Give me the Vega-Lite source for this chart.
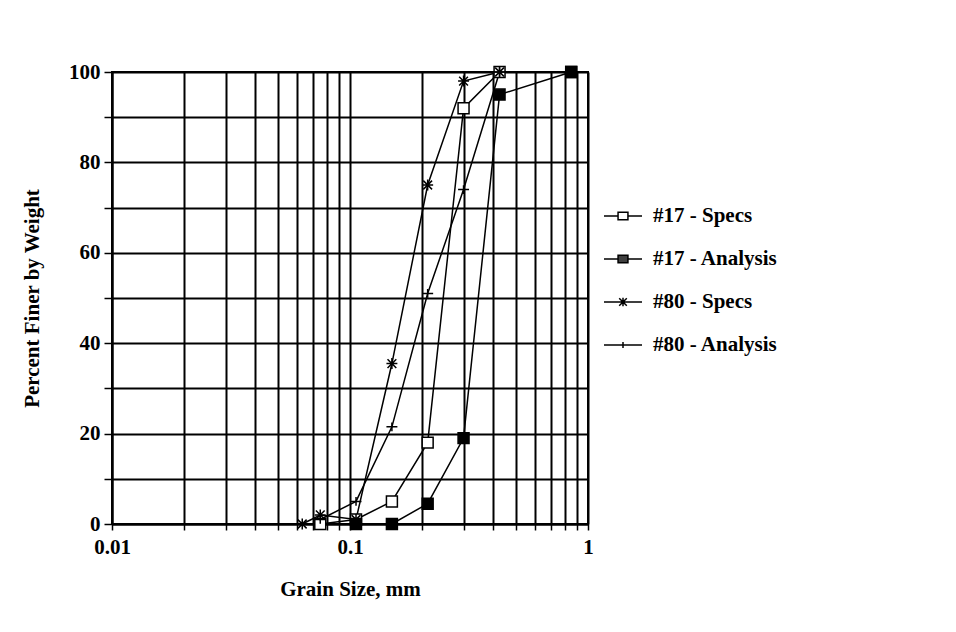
{
  "$schema": "https://vega.github.io/schema/vega-lite/v6.json",
  "width": 476,
  "height": 452,
  "padding": {"left": 21, "top": 61, "right": 5, "bottom": 5},
  "background": "white",
  "config": {
    "view": {"stroke": "black", "strokeWidth": 2},
    "font": "Liberation Serif"
  },
  "data": {
    "values": [
      {"series": "#17 - Specs", "size": 0.075, "pct": 0},
      {"series": "#17 - Specs", "size": 0.106, "pct": 1},
      {"series": "#17 - Specs", "size": 0.15, "pct": 5},
      {"series": "#17 - Specs", "size": 0.212, "pct": 18},
      {"series": "#17 - Specs", "size": 0.3, "pct": 92},
      {"series": "#17 - Specs", "size": 0.425, "pct": 100},
      {"series": "#17 - Specs", "size": 0.85, "pct": 100},
      {"series": "#17 - Analysis", "size": 0.106, "pct": 0},
      {"series": "#17 - Analysis", "size": 0.15, "pct": 0},
      {"series": "#17 - Analysis", "size": 0.212, "pct": 4.5},
      {"series": "#17 - Analysis", "size": 0.3, "pct": 19},
      {"series": "#17 - Analysis", "size": 0.425, "pct": 95},
      {"series": "#17 - Analysis", "size": 0.85, "pct": 100},
      {"series": "#80 - Specs", "size": 0.063, "pct": 0},
      {"series": "#80 - Specs", "size": 0.075, "pct": 2},
      {"series": "#80 - Specs", "size": 0.106, "pct": 1},
      {"series": "#80 - Specs", "size": 0.15, "pct": 35.5},
      {"series": "#80 - Specs", "size": 0.212, "pct": 75},
      {"series": "#80 - Specs", "size": 0.3, "pct": 98},
      {"series": "#80 - Specs", "size": 0.425, "pct": 100},
      {"series": "#80 - Analysis", "size": 0.075, "pct": 1},
      {"series": "#80 - Analysis", "size": 0.106, "pct": 5},
      {"series": "#80 - Analysis", "size": 0.15, "pct": 21.5},
      {"series": "#80 - Analysis", "size": 0.212, "pct": 51},
      {"series": "#80 - Analysis", "size": 0.3, "pct": 74},
      {"series": "#80 - Analysis", "size": 0.425, "pct": 100}
    ]
  },
  "encoding": {
    "x": {
      "field": "size",
      "type": "quantitative",
      "title": "Grain Size, mm",
      "scale": {"type": "log", "domain": [0.01, 1], "nice": false},
      "axis": {
        "values": [0.01, 0.02, 0.03, 0.04, 0.05, 0.06, 0.07, 0.08, 0.09, 0.1, 0.2, 0.3, 0.4, 0.5, 0.6, 0.7, 0.8, 0.9, 1],
        "labelExpr": "datum.value == 0.01 ? '0.01' : datum.value == 0.1 ? '0.1' : datum.value == 1 ? '1' : ''",
        "labelOverlap": false,
        "labelFlush": false,
        "grid": true,
        "gridColor": "black",
        "gridWidth": 2,
        "gridOpacity": 1,
        "domainColor": "black",
        "domainWidth": 2,
        "tickColor": "black",
        "tickSize": 6,
        "tickWidth": 1.5,
        "labelFont": "Liberation Serif",
        "labelFontSize": 21,
        "labelFontWeight": "bold",
        "labelColor": "black",
        "labelPadding": 6,
        "titleFont": "Liberation Serif",
        "titleFontSize": 21,
        "titleFontWeight": "bold",
        "titleColor": "black",
        "titlePadding": 21
      }
    },
    "y": {
      "field": "pct",
      "type": "quantitative",
      "title": "Percent Finer by Weight",
      "scale": {"domain": [0, 100], "nice": false},
      "axis": {
        "values": [0, 10, 20, 30, 40, 50, 60, 70, 80, 90, 100],
        "labelExpr": "datum.value % 20 == 0 ? datum.label : ''",
        "labelOverlap": false,
        "labelFlush": false,
        "grid": true,
        "gridColor": "black",
        "gridWidth": 2,
        "gridOpacity": 1,
        "domainColor": "black",
        "domainWidth": 2,
        "tickColor": "black",
        "tickSize": 8,
        "tickWidth": 1.5,
        "labelFont": "Liberation Serif",
        "labelFontSize": 21,
        "labelFontWeight": "bold",
        "labelColor": "black",
        "labelPadding": 4,
        "titleFont": "Liberation Serif",
        "titleFontSize": 21,
        "titleFontWeight": "bold",
        "titleColor": "black",
        "titlePadding": 26
      }
    }
  },
  "layer": [
    {
      "mark": {"type": "line", "color": "black", "strokeWidth": 1.5},
      "encoding": {"detail": {"field": "series"}}
    },
    {
      "mark": {"type": "point", "stroke": "black", "strokeWidth": 1.5, "opacity": 1, "size": 120},
      "encoding": {
        "shape": {
          "field": "series",
          "scale": {
            "domain": ["#17 - Specs", "#17 - Analysis", "#80 - Specs", "#80 - Analysis"],
            "range": ["square", "square", "M-0.8,-0.8L0.8,0.8M-0.8,0.8L0.8,-0.8M0,-1V1M-1,0H1", "M-1,0H1M0,-0.8V0.8"]
          },
          "legend": null
        },
        "fill": {
          "field": "series",
          "scale": {
            "domain": ["#17 - Specs", "#17 - Analysis", "#80 - Specs", "#80 - Analysis"],
            "range": ["white", "black", "white", "white"]
          },
          "legend": null
        }
      }
    },
    {
      "mark": {"type": "point", "opacity": 0},
      "encoding": {
        "shape": {
          "field": "series",
          "scale": {
            "domain": ["#17 - Specs", "#17 - Analysis", "#80 - Specs", "#80 - Analysis"],
            "range": [
              "M-1,0H-0.26M0.26,0H1M-0.26,-0.2H0.26V0.2H-0.26Z",
              "M-1,0H1M-0.26,-0.2H0.26V0.2H-0.26ZM-0.26,-0.1H0.26M-0.26,0.1H0.26",
              "M-1,0H1M-0.2,-0.2L0.2,0.2M-0.2,0.2L0.2,-0.2M0,-0.22V0.22",
              "M-1,0H1M0,-0.16V0.16"
            ]
          },
          "legend": {
            "orient": "none",
            "legendX": 491,
            "legendY": 124,
            "title": null,
            "symbolSize": 1444,
            "symbolStrokeColor": "black",
            "symbolStrokeWidth": 1.5,
            "symbolFillColor": "white",
            "symbolOpacity": 1,
            "labelFont": "Liberation Serif",
            "labelFontSize": 21,
            "labelFontWeight": "bold",
            "labelColor": "black",
            "labelOffset": 10,
            "rowPadding": 13,
            "labelLimit": 400
          }
        }
      }
    }
  ],
  "resolve": {"scale": {"shape": "independent"}}
}
